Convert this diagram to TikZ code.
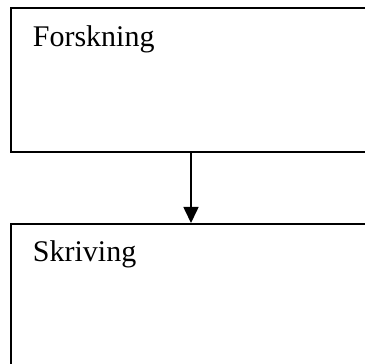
\documentclass[tikz,border=0pt]{standalone}
\usepackage{fontspec}
\setmainfont{Liberation Serif}
\usetikzlibrary{arrows.meta}
\begin{document}
\begin{tikzpicture}[x=1pt,y=1pt,
  frame/.style={draw=black,line width=1.6pt,fill=white,inner sep=0pt,
    minimum width=360pt,anchor=north},
  label/.style={anchor=base west,inner sep=0pt,font=\fontsize{30}{36}\selectfont},
  link/.style={line width=1.6pt,-{Triangle[length=16pt,width=15pt]}}]
  \useasboundingbox (0,0) rectangle (364,364);
  % boxes run past the right and bottom edge of the page
  \node[frame,minimum height=143.5pt] (forskbox) at (191,356.5) {};
  \node[frame,minimum height=220pt] (skrivbox) at (191,141) {};
  \node[label] (forsk) at (32.7,317.3) {Forskning};
  \node[label] (skriv) at (32.7,102.3) {Skriving};
  \draw[link] (forskbox.south) -- (skrivbox.north);
\end{tikzpicture}
\end{document}
